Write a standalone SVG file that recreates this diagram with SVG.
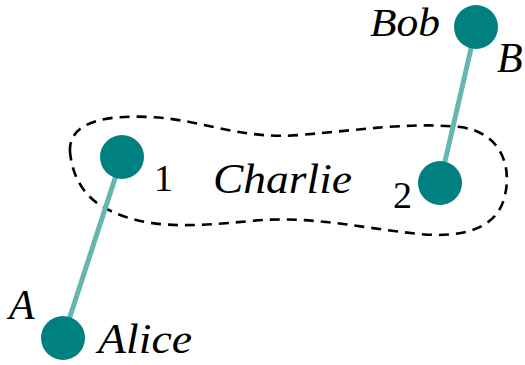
<svg xmlns="http://www.w3.org/2000/svg" width="525" height="365" viewBox="0 0 525 365">
<defs>
<circle id="dot" r="22" fill="#008080"/>
</defs>
<rect width="525" height="365" fill="#fff"/>
<g id="charlie">
<path d="M70,152 C68,120 110,115 150,117 C200,119 240,140 300,135 C360,130 410,122 460,127 C500,132 512,165 505,195 C498,230 460,238 420,234 C360,228 310,215 250,221 C190,227 140,230 100,205 C80,192 72,172 70,152 Z" fill="none" stroke="#000" stroke-width="2.6" stroke-dasharray="10,7"/>
<text x="213" y="193" font-family="Liberation Serif" font-size="42" font-style="italic" textLength="139" lengthAdjust="spacingAndGlyphs">Charlie</text>
</g>
<g id="connectors" stroke="#66b5b3" stroke-width="5" fill="none">
<line x1="63" y1="338" x2="122" y2="157"/>
<line x1="476" y1="27" x2="440" y2="183"/>
</g>
<g id="node1">
<use href="#dot" x="122" y="157"/>
<text x="154" y="191" font-family="Liberation Serif" font-size="38">1</text>
</g>
<g id="node2">
<use href="#dot" x="440" y="183"/>
<text x="393" y="208" font-family="Liberation Serif" font-size="38">2</text>
</g>
<g id="bob">
<use href="#dot" x="476" y="27"/>
<text x="370" y="36" font-family="Liberation Serif" font-size="40" font-style="italic" textLength="70" lengthAdjust="spacingAndGlyphs">Bob</text>
<text x="497" y="72" font-family="Liberation Serif" font-size="42" font-style="italic">B</text>
</g>
<g id="alice">
<use href="#dot" x="63" y="338"/>
<text x="9" y="319" font-family="Liberation Serif" font-size="42" font-style="italic">A</text>
<text x="98" y="353" font-family="Liberation Serif" font-size="42" font-style="italic" textLength="94" lengthAdjust="spacingAndGlyphs">Alice</text>
</g>
</svg>
